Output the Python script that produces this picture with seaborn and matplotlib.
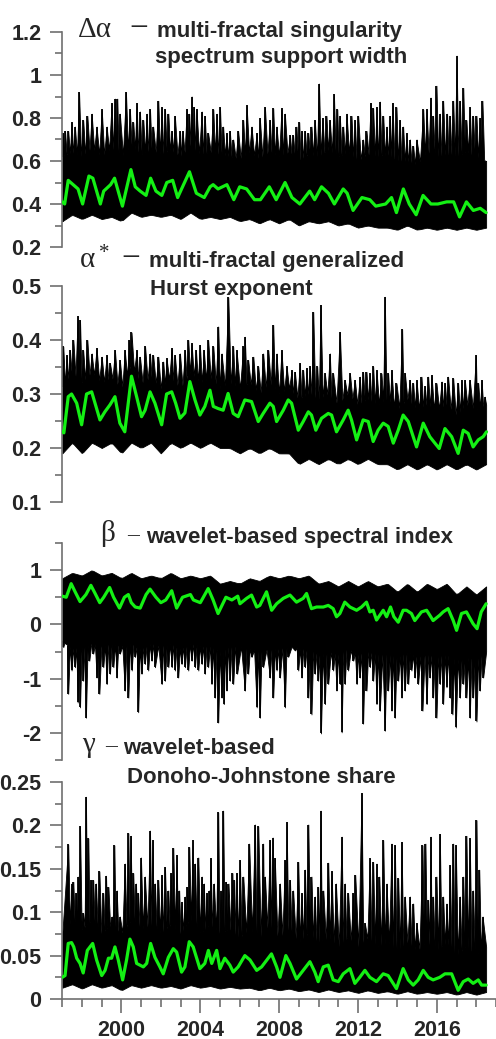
import numpy as np
import matplotlib
matplotlib.use("Agg")
import matplotlib.pyplot as plt
from matplotlib.ticker import MultipleLocator, FixedLocator, FuncFormatter
import seaborn as sns

sns.set_style("ticks")
plt.rcParams.update({
    "font.family": ["Liberation Sans", "DejaVu Sans"],
    "font.weight": "bold",
    "axes.unicode_minus": False,
})

# ---------------------------------------------------------------- data
# half-year grid on which the envelope of the daily series is given
HALF_YEARS = np.arange(1997.0, 2018.51, 0.5)

# --- Delta alpha: multi-fractal singularity spectrum support width
DALPHA_FLOOR = [0.32, 0.35, 0.33, 0.35, 0.33, 0.34, 0.32, 0.36, 0.34, 0.35,
                0.34, 0.35, 0.33, 0.36, 0.33, 0.34, 0.33, 0.34, 0.32, 0.33,
                0.31, 0.33, 0.31, 0.33, 0.30, 0.32, 0.31, 0.32, 0.30, 0.31,
                0.29, 0.30, 0.29, 0.29, 0.28, 0.30, 0.28, 0.29, 0.28, 0.29,
                0.28, 0.29, 0.28, 0.29]
DALPHA_BAND = [0.62, 0.64, 0.62, 0.66, 0.62, 0.66, 0.62, 0.67, 0.63, 0.65,
               0.63, 0.65, 0.62, 0.67, 0.63, 0.64, 0.63, 0.62, 0.61, 0.64,
               0.61, 0.64, 0.62, 0.64, 0.60, 0.63, 0.62, 0.65, 0.62, 0.64,
               0.60, 0.63, 0.62, 0.63, 0.60, 0.60, 0.58, 0.64, 0.62, 0.63,
               0.62, 0.64, 0.62, 0.60]
DALPHA_PEAKS = [
    (1997.02, 0.73), (1997.14, 0.74), (1997.30, 0.74), (1997.47, 0.78), (1997.64, 0.76),
    (1997.85, 0.92), (1998.06, 0.79), (1998.27, 0.81), (1998.49, 0.82), (1998.74, 0.76),
    (1999.00, 0.84), (1999.25, 0.76), (1999.50, 0.87), (1999.67, 0.89), (1999.79, 0.89),
    (1999.92, 0.82), (2000.23, 0.92), (2000.43, 0.84), (2000.60, 0.78), (2000.77, 0.87),
    (2000.94, 0.83), (2001.11, 0.79), (2001.28, 0.82), (2001.45, 0.84), (2001.61, 0.76),
    (2001.87, 0.88), (2002.04, 0.85), (2002.21, 0.84), (2002.38, 0.82), (2002.55, 0.74),
    (2002.71, 0.81), (2002.97, 0.74), (2003.10, 0.74), (2003.31, 0.84), (2003.44, 0.82),
    (2003.56, 0.90), (2003.68, 0.85), (2003.81, 0.84), (2004.07, 0.83), (2004.23, 0.81),
    (2004.40, 0.73), (2004.66, 0.84), (2004.83, 0.82), (2005.00, 0.85), (2005.16, 0.76),
    (2005.33, 0.73), (2005.50, 0.74), (2005.67, 0.70), (2005.92, 0.74),
    (2006.18, 0.79), (2006.35, 0.86), (2006.60, 0.76), (2006.86, 0.73), (2007.02, 0.80),
    (2007.28, 0.85), (2007.53, 0.79), (2007.70, 0.845), (2007.87, 0.76), (2008.12, 0.845),
    (2008.29, 0.82), (2008.55, 0.72), (2008.71, 0.72), (2008.88, 0.76), (2009.02, 0.78),
    (2009.14, 0.74), (2009.31, 0.74), (2009.48, 0.73), (2009.64, 0.76), (2009.81, 0.79),
    (2010.02, 0.96), (2010.20, 0.80), (2010.40, 0.81), (2010.57, 0.79), (2010.78, 0.91),
    (2010.95, 0.84), (2011.08, 0.81), (2011.25, 0.76), (2011.42, 0.82), (2011.67, 0.81),
    (2011.84, 0.79), (2012.01, 0.81), (2012.26, 0.70), (2012.43, 0.74), (2012.64, 0.87),
    (2012.77, 0.845), (2012.94, 0.85), (2013.11, 0.876), (2013.28, 0.81), (2013.45, 0.76),
    (2013.62, 0.81), (2013.75, 0.87), (2013.95, 0.85), (2014.12, 0.79), (2014.29, 0.76),
    (2014.46, 0.73), (2014.63, 0.70), (2014.80, 0.67), (2014.97, 0.70), (2015.31, 0.84),
    (2015.48, 0.84), (2015.68, 0.895), (2015.81, 0.81), (2015.98, 0.95), (2016.15, 0.82),
    (2016.32, 0.88), (2016.52, 0.82), (2016.66, 0.81), (2016.83, 0.88), (2017.00, 1.09),
    (2017.17, 0.88), (2017.34, 0.94), (2017.50, 0.79), (2017.67, 0.85), (2017.84, 0.81),
    (2018.01, 0.81), (2018.18, 0.80), (2018.31, 0.88), (2018.49, 0.60),
]
DALPHA_SMOOTH = [
    (1997.00, 0.41), (1997.12, 0.40), (1997.30, 0.51), (1997.55, 0.49), (1997.80, 0.47),
    (1998.03, 0.40), (1998.35, 0.53), (1998.55, 0.52), (1998.93, 0.40), (1999.10, 0.46),
    (1999.45, 0.49), (1999.65, 0.52), (2000.05, 0.39), (2000.48, 0.56), (2000.70, 0.48),
    (2000.95, 0.46), (2001.25, 0.44), (2001.48, 0.52), (2001.75, 0.46), (2002.05, 0.44),
    (2002.30, 0.50), (2002.60, 0.51), (2002.85, 0.43), (2003.45, 0.55), (2003.80, 0.45),
    (2004.20, 0.43), (2004.50, 0.48), (2004.65, 0.49), (2004.90, 0.47), (2005.35, 0.49),
    (2005.70, 0.42), (2006.00, 0.48), (2006.35, 0.47), (2006.75, 0.42), (2007.05, 0.42),
    (2007.50, 0.48), (2007.85, 0.42), (2008.30, 0.50), (2008.65, 0.43), (2009.05, 0.40),
    (2009.55, 0.46), (2009.80, 0.42), (2010.15, 0.48), (2010.50, 0.45), (2010.80, 0.40),
    (2011.25, 0.47), (2011.45, 0.45), (2011.75, 0.37), (2012.20, 0.43), (2012.60, 0.42),
    (2012.90, 0.39), (2013.40, 0.40), (2013.70, 0.43), (2013.95, 0.36), (2014.30, 0.47),
    (2014.60, 0.40), (2014.95, 0.35), (2015.30, 0.44), (2015.70, 0.40), (2016.05, 0.40),
    (2016.50, 0.41), (2016.85, 0.41), (2017.15, 0.34), (2017.50, 0.41), (2017.85, 0.37),
    (2018.20, 0.38), (2018.50, 0.36),
]

# --- alpha*: multi-fractal generalized Hurst exponent
HURST_FLOOR = [0.19, 0.21, 0.19, 0.21, 0.20, 0.21, 0.19, 0.21, 0.20, 0.21,
               0.19, 0.21, 0.20, 0.21, 0.20, 0.21, 0.20, 0.20, 0.19, 0.20,
               0.19, 0.20, 0.19, 0.19, 0.17, 0.18, 0.17, 0.18, 0.17, 0.18,
               0.17, 0.18, 0.17, 0.17, 0.16, 0.17, 0.16, 0.17, 0.16, 0.17,
               0.16, 0.17, 0.16, 0.17]
HURST_BAND = [0.31, 0.34, 0.32, 0.34, 0.32, 0.33, 0.31, 0.35, 0.32, 0.33,
              0.31, 0.33, 0.31, 0.34, 0.32, 0.33, 0.31, 0.32, 0.31, 0.32,
              0.30, 0.32, 0.30, 0.31, 0.29, 0.30, 0.29, 0.30, 0.28, 0.30,
              0.28, 0.29, 0.28, 0.29, 0.27, 0.29, 0.27, 0.28, 0.27, 0.28,
              0.26, 0.28, 0.27, 0.28]
HURST_PEAKS = [
    (1997.05, 0.388), (1997.22, 0.372), (1997.39, 0.381), (1997.56, 0.400), (1997.78, 0.444),
    (1997.90, 0.437), (1998.06, 0.381), (1998.27, 0.400), (1998.49, 0.375), (1998.74, 0.385),
    (1999.00, 0.369), (1999.25, 0.372), (1999.42, 0.357), (1999.67, 0.381), (1999.92, 0.363),
    (2000.17, 0.381), (2000.40, 0.400), (2000.51, 0.414), (2000.77, 0.381), (2000.94, 0.369),
    (2001.20, 0.388), (2001.45, 0.375), (2001.61, 0.372), (2001.87, 0.369), (2002.12, 0.360),
    (2002.29, 0.366), (2002.55, 0.385), (2002.71, 0.372), (2002.97, 0.375), (2003.22, 0.381),
    (2003.39, 0.400), (2003.56, 0.394), (2003.78, 0.381), (2003.98, 0.391), (2004.18, 0.381),
    (2004.40, 0.400), (2004.66, 0.388), (2004.91, 0.425), (2005.08, 0.375), (2005.42, 0.479),
    (2005.67, 0.388), (2005.84, 0.381),
    (2006.18, 0.388), (2006.26, 0.406), (2006.43, 0.363), (2006.69, 0.369), (2006.94, 0.351),
    (2007.19, 0.375), (2007.45, 0.381), (2007.70, 0.428), (2007.87, 0.375), (2008.12, 0.381),
    (2008.38, 0.351), (2008.63, 0.344), (2008.80, 0.341), (2009.05, 0.357), (2009.22, 0.344),
    (2009.39, 0.348), (2009.56, 0.351), (2009.73, 0.452), (2009.93, 0.351), (2010.10, 0.465),
    (2010.32, 0.338), (2010.57, 0.375), (2010.74, 0.338), (2011.08, 0.415), (2011.33, 0.326),
    (2011.59, 0.338), (2011.84, 0.326), (2012.09, 0.332), (2012.26, 0.341), (2012.43, 0.341),
    (2012.60, 0.338), (2012.77, 0.351), (2012.94, 0.344), (2013.19, 0.338), (2013.36, 0.480),
    (2013.53, 0.338), (2013.70, 0.344), (2013.95, 0.320), (2014.24, 0.420), (2014.38, 0.338),
    (2014.63, 0.326), (2014.80, 0.320), (2014.97, 0.326), (2015.22, 0.332), (2015.39, 0.314),
    (2015.56, 0.332), (2015.73, 0.335), (2015.98, 0.320), (2016.24, 0.323), (2016.41, 0.320),
    (2016.57, 0.332), (2016.83, 0.329), (2017.08, 0.320), (2017.25, 0.326), (2017.42, 0.326),
    (2017.67, 0.326), (2017.98, 0.372), (2018.10, 0.320), (2018.27, 0.326), (2018.43, 0.295),
]
HURST_SMOOTH = [
    (1997.00, 0.230), (1997.08, 0.228), (1997.30, 0.295), (1997.47, 0.300), (1997.73, 0.283),
    (1997.98, 0.243), (1998.23, 0.300), (1998.49, 0.304), (1998.66, 0.283), (1998.91, 0.252),
    (1999.16, 0.267), (1999.42, 0.280), (1999.67, 0.295), (1999.92, 0.246), (2000.17, 0.230),
    (2000.51, 0.333), (2000.77, 0.295), (2001.02, 0.258), (2001.20, 0.270), (2001.45, 0.304),
    (2001.70, 0.283), (2002.04, 0.243), (2002.29, 0.300), (2002.55, 0.304), (2002.75, 0.283),
    (2002.97, 0.255), (2003.22, 0.265), (2003.47, 0.323), (2003.73, 0.289), (2003.98, 0.261),
    (2004.23, 0.277), (2004.49, 0.307), (2004.66, 0.277), (2004.91, 0.273), (2005.16, 0.270),
    (2005.41, 0.301), (2005.67, 0.264), (2005.92, 0.258), (2006.26, 0.289), (2006.60, 0.286),
    (2006.94, 0.249), (2007.19, 0.264), (2007.53, 0.283), (2007.70, 0.277), (2007.87, 0.249),
    (2008.21, 0.270), (2008.46, 0.289), (2008.63, 0.283), (2008.97, 0.233), (2009.22, 0.249),
    (2009.48, 0.267), (2009.64, 0.261), (2009.86, 0.233), (2010.15, 0.255), (2010.49, 0.264),
    (2010.66, 0.261), (2010.91, 0.230), (2011.25, 0.252), (2011.50, 0.270), (2011.67, 0.252),
    (2011.93, 0.215), (2012.26, 0.252), (2012.52, 0.249), (2012.77, 0.212), (2013.02, 0.233),
    (2013.28, 0.246), (2013.53, 0.240), (2013.79, 0.209), (2014.04, 0.233), (2014.29, 0.261),
    (2014.55, 0.249), (2014.97, 0.202), (2015.31, 0.246), (2015.64, 0.221), (2016.12, 0.199),
    (2016.41, 0.236), (2016.75, 0.221), (2017.08, 0.190), (2017.34, 0.233), (2017.59, 0.227),
    (2017.84, 0.202), (2018.10, 0.215), (2018.35, 0.221), (2018.52, 0.230),
]

# --- beta: wavelet-based spectral index
BETA_TOP = [0.85, 0.95, 0.90, 1.00, 0.90, 0.95, 0.85, 0.95, 0.85, 0.90,
            0.85, 0.95, 0.85, 0.90, 0.85, 0.90, 0.75, 0.80, 0.75, 0.85,
            0.80, 0.90, 0.85, 0.90, 0.85, 0.90, 0.75, 0.80, 0.70, 0.80,
            0.70, 0.80, 0.70, 0.75, 0.60, 0.75, 0.60, 0.75, 0.65, 0.75,
            0.55, 0.70, 0.55, 0.70]
BETA_BAND = [-0.30, -0.45, -0.40, -0.35, -0.40, -0.35, -0.40, -0.35, -0.45, -0.35,
             -0.40, -0.35, -0.45, -0.35, -0.40, -0.40, -0.50, -0.40, -0.40, -0.45,
             -0.50, -0.45, -0.45, -0.40, -0.45, -0.45, -0.55, -0.50, -0.55, -0.45,
             -0.55, -0.50, -0.55, -0.55, -0.60, -0.50, -0.60, -0.55, -0.60, -0.55,
             -0.65, -0.60, -0.65, -0.50]
BETA_DIPS = [
    (1997.05, -0.42), (1997.17, -0.36), (1997.30, -1.28), (1997.47, -0.85), (1997.64, -0.79),
    (1997.78, -1.44), (1997.90, -1.53), (1998.06, -1.04), (1998.20, -1.72), (1998.37, -0.67),
    (1998.57, -0.54), (1998.74, -0.98), (1998.88, -1.28), (1999.08, -0.79), (1999.25, -1.10),
    (1999.42, -0.91), (1999.59, -0.79), (1999.76, -0.98), (1999.92, -0.54), (2000.17, -1.22),
    (2000.35, -1.35), (2000.52, -0.85), (2000.69, -0.60), (2000.85, -1.62), (2001.02, -0.91),
    (2001.19, -0.73), (2001.36, -0.85), (2001.53, -0.67), (2001.70, -0.79), (2002.04, -1.10),
    (2002.21, -1.04), (2002.38, -0.79), (2002.55, -0.79), (2002.71, -0.85), (2002.88, -0.98),
    (2003.05, -0.73), (2003.22, -0.79), (2003.39, -0.85), (2003.56, -0.67), (2003.73, -0.79),
    (2003.90, -0.85), (2004.07, -0.73), (2004.23, -0.91), (2004.40, -0.79), (2004.57, -1.10),
    (2004.74, -1.35), (2004.91, -1.81), (2005.08, -1.35), (2005.19, -1.47), (2005.33, -1.22),
    (2005.50, -1.04), (2005.67, -1.10), (2005.87, -0.91),
    (2006.26, -1.22), (2006.43, -0.91), (2006.60, -0.60), (2006.86, -1.53), (2007.02, -1.72),
    (2007.19, -0.79), (2007.53, -0.98), (2007.70, -1.35), (2007.87, -0.85), (2008.04, -0.98),
    (2008.29, -1.53), (2008.46, -0.60), (2008.80, -0.48), (2008.97, -0.85), (2009.14, -0.98),
    (2009.31, -0.79), (2009.48, -1.35), (2009.64, -1.66), (2009.81, -0.91), (2009.98, -1.04),
    (2010.12, -2.01), (2010.32, -1.47), (2010.49, -1.10), (2010.74, -0.85), (2010.91, -1.22),
    (2011.08, -1.10), (2011.17, -1.99), (2011.33, -1.10), (2011.50, -0.85), (2011.76, -0.67),
    (2011.93, -1.10), (2012.09, -0.98), (2012.26, -1.83), (2012.43, -1.22), (2012.60, -0.79),
    (2012.77, -1.04), (2012.94, -1.47), (2013.11, -1.59), (2013.36, -1.96), (2013.53, -1.22),
    (2013.70, -1.59), (2013.87, -1.72), (2014.04, -1.04), (2014.21, -1.35), (2014.38, -1.22),
    (2014.55, -1.10), (2014.71, -0.85), (2014.88, -0.98), (2015.05, -1.10), (2015.27, -1.59),
    (2015.48, -1.47), (2015.64, -0.98), (2015.81, -1.35), (2015.98, -1.72), (2016.15, -1.10),
    (2016.32, -1.47), (2016.49, -1.16), (2016.66, -1.35), (2016.79, -1.66), (2016.96, -1.90),
    (2017.17, -1.35), (2017.34, -1.10), (2017.50, -1.35), (2017.67, -1.72), (2017.84, -1.35),
    (2018.01, -1.79), (2018.18, -1.22), (2018.35, -0.98),
]
BETA_SMOOTH = [
    (1997.00, 0.52), (1997.20, 0.50), (1997.45, 0.75), (1997.65, 0.60), (1997.90, 0.42),
    (1998.20, 0.55), (1998.45, 0.72), (1998.65, 0.58), (1998.90, 0.40), (1999.10, 0.50),
    (1999.40, 0.68), (1999.60, 0.50), (1999.90, 0.30), (2000.15, 0.50), (2000.35, 0.55),
    (2000.50, 0.40), (2000.70, 0.32), (2000.95, 0.30), (2001.25, 0.55), (2001.45, 0.65),
    (2001.75, 0.50), (2002.00, 0.40), (2002.25, 0.45), (2002.55, 0.62), (2002.80, 0.30),
    (2003.10, 0.50), (2003.50, 0.55), (2003.65, 0.45), (2004.00, 0.40), (2004.40, 0.66),
    (2004.65, 0.45), (2004.90, 0.20), (2005.30, 0.50), (2005.60, 0.45), (2005.90, 0.52),
    (2006.01, 0.38), (2006.35, 0.48), (2006.60, 0.54), (2006.86, 0.32), (2007.02, 0.35),
    (2007.36, 0.60), (2007.62, 0.26), (2007.87, 0.38), (2008.21, 0.48), (2008.55, 0.54),
    (2008.88, 0.41), (2009.22, 0.48), (2009.39, 0.57), (2009.64, 0.29), (2009.90, 0.32),
    (2010.24, 0.32), (2010.49, 0.35), (2010.74, 0.29), (2010.91, 0.14), (2011.08, 0.20),
    (2011.33, 0.41), (2011.59, 0.32), (2011.93, 0.26), (2012.18, 0.32), (2012.43, 0.41),
    (2012.60, 0.23), (2012.77, 0.26), (2012.94, 0.08), (2013.28, 0.26), (2013.45, 0.14),
    (2013.65, 0.32), (2013.82, 0.14), (2014.04, 0.04), (2014.29, 0.26), (2014.46, 0.26),
    (2014.71, 0.20), (2014.88, 0.07), (2015.22, 0.23), (2015.48, 0.26), (2015.64, 0.17),
    (2015.81, 0.07), (2016.15, 0.17), (2016.32, 0.23), (2016.57, 0.29), (2016.83, 0.07),
    (2017.00, -0.11), (2017.25, 0.20), (2017.50, 0.23), (2017.84, 0.01), (2018.04, -0.08),
    (2018.25, 0.23), (2018.50, 0.38),
]

# --- gamma: wavelet-based Donoho-Johnstone share
DJ_FLOOR = [0.013, 0.017, 0.012, 0.017, 0.013, 0.016, 0.010, 0.016, 0.013, 0.016,
            0.013, 0.015, 0.012, 0.016, 0.013, 0.015, 0.012, 0.014, 0.012, 0.013,
            0.010, 0.013, 0.010, 0.012, 0.009, 0.011, 0.008, 0.011, 0.008, 0.010,
            0.007, 0.010, 0.007, 0.009, 0.006, 0.009, 0.006, 0.008, 0.006, 0.008,
            0.005, 0.008, 0.005, 0.008]
DJ_BAND = [0.075, 0.090, 0.080, 0.090, 0.075, 0.085, 0.075, 0.090, 0.080, 0.085,
           0.075, 0.085, 0.075, 0.090, 0.075, 0.085, 0.075, 0.080, 0.070, 0.080,
           0.070, 0.085, 0.070, 0.080, 0.065, 0.075, 0.065, 0.070, 0.060, 0.070,
           0.060, 0.070, 0.060, 0.065, 0.055, 0.065, 0.055, 0.065, 0.055, 0.065,
           0.050, 0.060, 0.050, 0.060]
DJ_PEAKS = [
    (1997.30, 0.178), (1997.47, 0.133), (1997.56, 0.135), (1997.69, 0.122), (1997.81, 0.141),
    (1997.90, 0.199), (1998.06, 0.099), (1998.20, 0.233), (1998.32, 0.185), (1998.44, 0.137),
    (1998.57, 0.137), (1998.71, 0.133), (1998.88, 0.147), (1999.08, 0.122), (1999.22, 0.142),
    (1999.34, 0.129), (1999.51, 0.095), (1999.64, 0.177), (1999.76, 0.125), (1999.92, 0.095),
    (2000.17, 0.156), (2000.35, 0.191), (2000.47, 0.188), (2000.60, 0.145), (2000.74, 0.133),
    (2000.85, 0.122), (2000.99, 0.163), (2001.19, 0.141), (2001.45, 0.194), (2001.58, 0.183),
    (2001.70, 0.133), (2001.87, 0.137), (2002.04, 0.143), (2002.21, 0.152), (2002.38, 0.125),
    (2002.50, 0.145), (2002.63, 0.174), (2002.80, 0.166), (2002.93, 0.125), (2003.05, 0.112),
    (2003.22, 0.118), (2003.34, 0.129), (2003.44, 0.175), (2003.61, 0.183), (2003.73, 0.156),
    (2003.90, 0.163), (2004.07, 0.141), (2004.18, 0.133), (2004.32, 0.122), (2004.45, 0.125),
    (2004.52, 0.162), (2004.69, 0.133), (2004.91, 0.215), (2005.03, 0.125), (2005.16, 0.217),
    (2005.30, 0.135), (2005.43, 0.133), (2005.63, 0.145), (2005.72, 0.137), (2005.84, 0.145),
    (2006.01, 0.160), (2006.18, 0.141),
    (2006.48, 0.179), (2006.77, 0.201), (2006.94, 0.199), (2007.19, 0.179), (2007.28, 0.141),
    (2007.53, 0.183), (2007.67, 0.186), (2007.78, 0.162), (2008.04, 0.133), (2008.29, 0.160),
    (2008.38, 0.204), (2008.55, 0.137), (2008.71, 0.125), (2008.97, 0.158), (2009.14, 0.122),
    (2009.31, 0.149), (2009.48, 0.201), (2009.64, 0.141), (2009.81, 0.118), (2009.98, 0.129),
    (2010.10, 0.217), (2010.24, 0.125), (2010.49, 0.157), (2010.66, 0.147), (2010.88, 0.133),
    (2011.17, 0.187), (2011.33, 0.133), (2011.50, 0.122), (2011.76, 0.122), (2011.86, 0.143),
    (2012.18, 0.237), (2012.35, 0.087), (2012.60, 0.162), (2012.77, 0.158), (2012.94, 0.156),
    (2013.08, 0.141), (2013.28, 0.183), (2013.45, 0.133), (2013.70, 0.179), (2013.87, 0.177),
    (2014.04, 0.139), (2014.21, 0.181), (2014.38, 0.118), (2014.63, 0.118), (2014.80, 0.110),
    (2014.97, 0.087), (2015.27, 0.177), (2015.42, 0.179), (2015.56, 0.114), (2015.68, 0.187),
    (2015.81, 0.118), (2015.98, 0.141), (2016.15, 0.190), (2016.32, 0.118), (2016.49, 0.110),
    (2016.66, 0.154), (2016.83, 0.179), (2016.96, 0.177), (2017.17, 0.118), (2017.34, 0.141),
    (2017.50, 0.188), (2017.67, 0.185), (2017.84, 0.125), (2018.01, 0.206), (2018.15, 0.149),
    (2018.32, 0.095),
]
DJ_SMOOTH = [
    (1997.00, 0.025), (1997.14, 0.027), (1997.30, 0.064), (1997.47, 0.065), (1997.58, 0.060),
    (1997.73, 0.047), (1997.90, 0.041), (1998.06, 0.030), (1998.27, 0.056), (1998.54, 0.064),
    (1998.74, 0.045), (1999.00, 0.027), (1999.17, 0.033), (1999.34, 0.047), (1999.50, 0.047),
    (1999.67, 0.060), (1999.84, 0.045), (2000.06, 0.022), (2000.26, 0.045), (2000.43, 0.069),
    (2000.60, 0.060), (2000.77, 0.041), (2001.11, 0.037), (2001.28, 0.041), (2001.48, 0.064),
    (2001.70, 0.048), (2001.95, 0.037), (2002.12, 0.029), (2002.38, 0.048), (2002.63, 0.058),
    (2002.80, 0.054), (2003.05, 0.031), (2003.22, 0.037), (2003.44, 0.066), (2003.64, 0.060),
    (2003.98, 0.035), (2004.23, 0.041), (2004.41, 0.056), (2004.58, 0.041), (2004.83, 0.056),
    (2005.00, 0.035), (2005.24, 0.047), (2005.50, 0.039), (2005.67, 0.031), (2005.92, 0.037),
    (2006.26, 0.050), (2006.52, 0.045), (2006.86, 0.033), (2007.11, 0.037), (2007.61, 0.052),
    (2007.87, 0.037), (2008.04, 0.025), (2008.34, 0.050), (2008.55, 0.041), (2008.88, 0.023),
    (2009.22, 0.033), (2009.56, 0.043), (2009.81, 0.031), (2009.98, 0.020), (2010.24, 0.037),
    (2010.49, 0.039), (2010.74, 0.022), (2011.00, 0.020), (2011.25, 0.029), (2011.59, 0.035),
    (2011.84, 0.018), (2012.09, 0.025), (2012.35, 0.033), (2012.60, 0.025), (2012.94, 0.020),
    (2013.28, 0.029), (2013.53, 0.027), (2013.95, 0.012), (2014.29, 0.035), (2014.55, 0.022),
    (2014.80, 0.016), (2015.05, 0.022), (2015.31, 0.033), (2015.56, 0.025), (2015.81, 0.022),
    (2016.15, 0.025), (2016.41, 0.029), (2016.75, 0.029), (2017.08, 0.010), (2017.34, 0.020),
    (2017.59, 0.023), (2017.84, 0.018), (2018.10, 0.022), (2018.27, 0.016), (2018.50, 0.016),
]

YEAR_TICKS = [2000, 2004, 2008, 2012, 2016]

# ---------------------------------------------------------------- style
W, H = 496, 1039
GREEN = "#14f014"
AXIS_GREY = "#6f6f6f"
AX_LEFT, AX_RIGHT = 62.3, 496.0
TICK_FONT = 15.5

fig = plt.figure(figsize=(W / 100, H / 100), dpi=100)


def make_axes(top_px, bottom_px, ylim, major, minor, show_x=False):
    ax = fig.add_axes([AX_LEFT / W, 1 - bottom_px / H,
                       (AX_RIGHT - AX_LEFT) / W, (bottom_px - top_px) / H])
    ax.set_facecolor("none")
    ax.set_xlim(1997.0, 2019.0)
    ax.set_ylim(*ylim)
    for side in ("top", "right"):
        ax.spines[side].set_visible(False)
    ax.spines["left"].set_color(AXIS_GREY)
    ax.spines["left"].set_linewidth(1.2)
    ax.yaxis.set_major_locator(MultipleLocator(major))
    ax.yaxis.set_minor_locator(MultipleLocator(minor))
    ax.yaxis.set_major_formatter(FuncFormatter(lambda v, _: f"{v:g}"))
    ax.tick_params(axis="y", which="major", length=9, width=1.2, color=AXIS_GREY,
                   pad=6, labelsize=TICK_FONT, direction="out")
    ax.tick_params(axis="y", which="minor", length=5, width=1.2, color=AXIS_GREY,
                   direction="out")
    if show_x:
        ax.spines["bottom"].set_color(AXIS_GREY)
        ax.spines["bottom"].set_linewidth(1.2)
        ax.xaxis.set_major_locator(FixedLocator(YEAR_TICKS))
        ax.xaxis.set_minor_locator(MultipleLocator(1))
        ax.xaxis.set_major_formatter(FuncFormatter(lambda v, _: f"{v:.0f}"))
        ax.tick_params(axis="x", which="major", length=10, width=1.2, color=AXIS_GREY,
                       pad=5, labelsize=TICK_FONT, direction="out")
        ax.tick_params(axis="x", which="minor", length=6, width=1.2, color=AXIS_GREY,
                       direction="out")
    else:
        ax.spines["bottom"].set_visible(False)
        ax.set_xticks([])
    return ax


def skyline(extremes, base):
    """Edge that runs through each extreme and drops back to the base level
    half way to the next one."""
    et, ev = np.asarray(extremes, dtype=float).T
    mids = 0.5 * (et[:-1] + et[1:])
    xs = np.concatenate([[HALF_YEARS[0]], et, mids, [HALF_YEARS[-1]]])
    ys = np.concatenate([[base[0]], ev, np.interp(mids, HALF_YEARS, base), [base[-1]]])
    order = np.argsort(xs, kind="stable")
    return xs[order], ys[order]


def draw_series(ax, low, high, smooth, peaks=None, dips=None):
    low = np.asarray(low, dtype=float)
    high = np.asarray(high, dtype=float)
    if peaks is not None:
        xs, top = skyline(peaks, high)
        ax.fill_between(xs, np.interp(xs, HALF_YEARS, low), top,
                        color="black", lw=0.6, edgecolor="black", zorder=1)
        pt, pv = np.asarray(peaks, dtype=float).T
        ax.vlines(pt, np.interp(pt, HALF_YEARS, high), pv,
                  color="black", lw=1.3, zorder=1)
    if dips is not None:
        xs, bottom = skyline(dips, low)
        ax.fill_between(xs, bottom, np.interp(xs, HALF_YEARS, high),
                        color="black", lw=0.6, edgecolor="black", zorder=1)
        dt, dv = np.asarray(dips, dtype=float).T
        ax.vlines(dt, dv, np.interp(dt, HALF_YEARS, low),
                  color="black", lw=1.3, zorder=1)
    st, sv = np.asarray(smooth, dtype=float).T
    sns.lineplot(x=st, y=sv, ax=ax, color=GREEN, lw=2.3, estimator=None,
                 sort=False, zorder=3)
    ax.set_xlabel("")
    ax.set_ylabel("")


ax1 = make_axes(32, 247, (0.2, 1.2), 0.2, 0.1)
draw_series(ax1, DALPHA_FLOOR, DALPHA_BAND, DALPHA_SMOOTH, peaks=DALPHA_PEAKS)

ax2 = make_axes(286, 502, (0.1, 0.5), 0.1, 0.05)
draw_series(ax2, HURST_FLOOR, HURST_BAND, HURST_SMOOTH, peaks=HURST_PEAKS)

ax3 = make_axes(543, 760, (-2.5, 1.5), 1.0, 0.5)
draw_series(ax3, BETA_BAND, BETA_TOP, BETA_SMOOTH, dips=BETA_DIPS)

ax4 = make_axes(782, 999, (0.0, 0.25), 0.05, 0.025, show_x=True)
draw_series(ax4, DJ_FLOOR, DJ_BAND, DJ_SMOOTH, peaks=DJ_PEAKS)


# ---------------------------------------------------------------- titles
def put(x_px, y_px, s, **kw):
    fig.text(x_px / W, 1 - y_px / H, s, ha="left", va="baseline", **kw)


SERIF = "Liberation Serif"
GREEK = dict(family=SERIF, fontweight="normal", size=21)
STAR = dict(family=SERIF, fontweight="normal", size=15)
DASH = dict(family=SERIF, fontweight="normal", size=24)
EN_DASH = dict(family=SERIF, fontweight="normal", size=17)
BOLD = dict(family="Liberation Sans", fontweight="bold", size=16)

put(78, 37, "Δα", **GREEK)
put(129, 37, "\u2212", **DASH)
put(157, 37, "multi-fractal singularity", **BOLD)
put(155, 63.5, "spectrum support width", **BOLD)

put(80, 267, "α", **GREEK)
put(99, 258, "*", **STAR)
put(121, 267, "\u2212", **DASH)
put(149, 267, "multi-fractal generalized", **BOLD)
put(150, 295, "Hurst exponent", **BOLD)

put(100, 541, "β", **GREEK)
put(127, 541, "\u2013", **EN_DASH)
put(146, 543, "wavelet-based spectral index", **BOLD)

put(82, 752, "γ", **GREEK)
put(105, 752, "\u2013", **EN_DASH)
put(123, 754, "wavelet-based", **BOLD)
put(127, 783, "Donoho-Johnstone share", **BOLD)

fig.savefig("out.png", dpi=100)
